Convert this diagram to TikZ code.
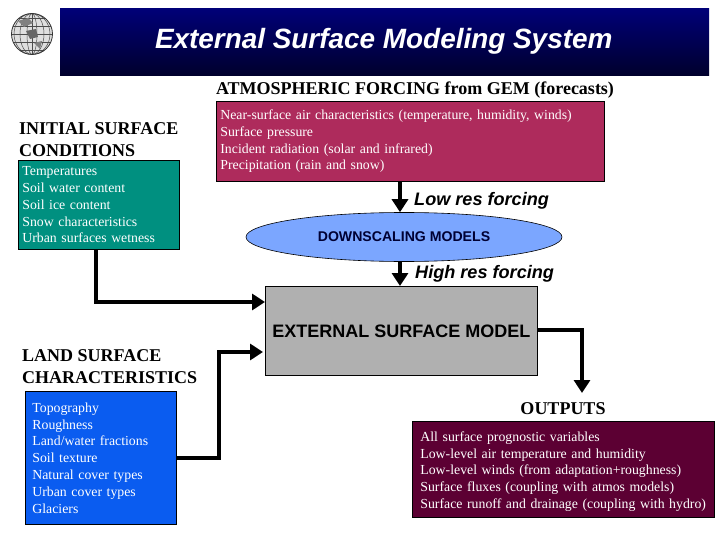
\documentclass[tikz,border=0pt]{standalone}
\usepackage{fontspec}
\setmainfont{Liberation Serif}
\setsansfont{Liberation Sans}
\usetikzlibrary{shapes.geometric,arrows.meta}

\definecolor{titleTop}{RGB}{0,0,120}
\definecolor{titleBot}{RGB}{0,0,45}
\definecolor{forcingCol}{RGB}{174,43,92}
\definecolor{initialCol}{RGB}{0,144,128}
\definecolor{downCol}{RGB}{123,166,255}
\definecolor{modelCol}{RGB}{176,176,176}
\definecolor{landCol}{RGB}{10,92,240}
\definecolor{outCol}{RGB}{92,0,51}

\tikzset{
    listbox/.style={draw=black, line width=0.8pt, anchor=north west, align=left,
        inner sep=0pt, text=white, font=\fontsize{13.8}{16.8}\selectfont},
    heading/.style={anchor=west, align=left, inner sep=0pt, font=\bfseries\fontsize{18}{22}\selectfont},
    reslabel/.style={anchor=west, inner sep=0pt, font=\sffamily\bfseries\itshape\fontsize{18.1}{20}\selectfont},
    flow/.style={line width=4.5pt, -{Triangle[length=13pt,width=16pt]}}
}

\begin{document}
\begin{tikzpicture}[x=1pt,y=-1pt]

\useasboundingbox (0,0) rectangle (720,540);

% Logo
\begin{scope}
    \clip (32,34) circle (20.5);
    \fill[gray!25] (32,34) circle (20.5);
    \foreach \i in {-16,-8,0,8,16} {
        \draw[black!70, line width=0.5pt] (11,{34+\i}) -- (53,{34+\i});
    }
    \foreach \w in {5,12,18} {
        \draw[black!70, line width=0.5pt] (32,34) ellipse ({\w} and 20.5);
    }
    \draw[black!70, line width=0.5pt] (32,13) -- (32,55);
    \fill[black!60] (26,31) -- (36,29) -- (38,37) -- (30,39) -- cycle;
    \fill[black!50] (18,21) -- (28,18) -- (33,23) -- (24,27) -- cycle;
    \fill[black!50] (34,43) -- (42,41) -- (40,49) -- cycle;
\end{scope}
\draw[black!80, line width=0.8pt] (32,34) circle (20.5);

% Title
\node[anchor=north west, minimum width=649pt, minimum height=67pt, inner sep=0pt,
    top color=titleTop, bottom color=titleBot, text=white,
    font=\sffamily\bfseries\itshape\fontsize{27.9}{30}\selectfont] (title) at (60,8)
    {\hspace*{-2pt}External Surface Modeling System};

% Forcing
\node[anchor=south, inner sep=0pt, font=\bfseries\fontsize{18}{20}\selectfont] (forcingHead) at (415,99)
    {ATMOSPHERIC FORCING from GEM (forecasts)};
\node[listbox, fill=forcingCol, minimum width=388pt, minimum height=80pt, text width=384pt] (forcing) at (216,101)
    {\hspace*{2pt}Near-surface air characteristics (temperature, humidity, winds)\\
     \hspace*{2pt}Surface pressure\\
     \hspace*{2pt}Incident radiation (solar and infrared)\\
     \hspace*{2pt}Precipitation (rain and snow)};

% Initial surface
\node[heading] (initialHead) at (19,139.5) {INITIAL SURFACE\\CONDITIONS};
\node[listbox, fill=initialCol, minimum width=161pt, minimum height=89pt, text width=157pt] (initial) at (18,160)
    {\hspace*{2pt}Temperatures\\
     \hspace*{2pt}Soil water content\\
     \hspace*{2pt}Soil ice content\\
     \hspace*{2pt}Snow characteristics\\
     \hspace*{2pt}Urban surfaces wetness};

% Downscaling
\node[ellipse, draw=black, line width=0.6pt, fill=downCol, minimum width=316pt, minimum height=49pt, inner sep=0pt,
    text=black!80!blue, font=\sffamily\bfseries\fontsize{14.1}{16}\selectfont] (down) at (404,237) {DOWNSCALING MODELS};

% Model
\node[draw=black, line width=0.8pt, fill=modelCol, anchor=north west, minimum width=272pt, minimum height=89pt,
    inner sep=0pt, font=\sffamily\bfseries\fontsize{18}{20}\selectfont] (model) at (265,286)
    {EXTERNAL SURFACE MODEL};

% Land surface
\node[heading] (landHead) at (22,367) {LAND SURFACE\\CHARACTERISTICS};
\node[listbox, fill=landCol, minimum width=151pt, minimum height=133pt, text width=144pt] (land) at (25,391)
    {\hspace*{3.5pt}Topography\\
     \hspace*{3.5pt}Roughness\\
     \hspace*{3.5pt}Land/water fractions\\
     \hspace*{3.5pt}Soil texture\\
     \hspace*{3.5pt}Natural cover types\\
     \hspace*{3.5pt}Urban cover types\\
     \hspace*{3.5pt}Glaciers};

% Outputs
\node[anchor=south, inner sep=0pt, font=\bfseries\fontsize{18}{20}\selectfont] (outHead) at (563,415) {OUTPUTS};
\node[listbox, fill=outCol, minimum width=302pt, minimum height=96pt, text width=298pt] (out) at (412,421)
    {\rule{0pt}{14pt}\hspace*{6pt}All surface prognostic variables\\
     \hspace*{6pt}Low-level air temperature and humidity\\
     \hspace*{6pt}Low-level winds (from adaptation+roughness)\\
     \hspace*{6pt}Surface fluxes (coupling with atmos models)\\
     \hspace*{6pt}Surface runoff and drainage (coupling with hydro)};

% Connectors
\coordinate (forcingS) at (forcing.south -| 400,0);
\coordinate (downN) at (down.north -| 400,0);
\coordinate (downS) at (down.south -| 400,0);
\coordinate (modelN) at (model.north -| 400,0);
\coordinate (initialS) at (initial.south -| 96,0);
\coordinate (modelWa) at (model.west |- 0,302);
\coordinate (landE) at (land.east |- 0,458);
\coordinate (modelWb) at (model.west |- 0,352);
\coordinate (modelE) at (model.east |- 0,330);
\coordinate (outN) at (582,393);

\draw[flow] (forcingS) -- (downN);
\draw[flow] (downS) -- (modelN);
\draw[flow] (initialS) |- (modelWa);
\draw[flow] (landE) -- (219,458) |- ([xshift=-2pt]modelWb);
\draw[flow] (modelE) -| (outN);

% Forcing labels
\node[reslabel] (lowLabel) at (414,201) {Low res forcing};
\node[reslabel] (highLabel) at (415,274) {High res forcing};

\end{tikzpicture}
\end{document}
